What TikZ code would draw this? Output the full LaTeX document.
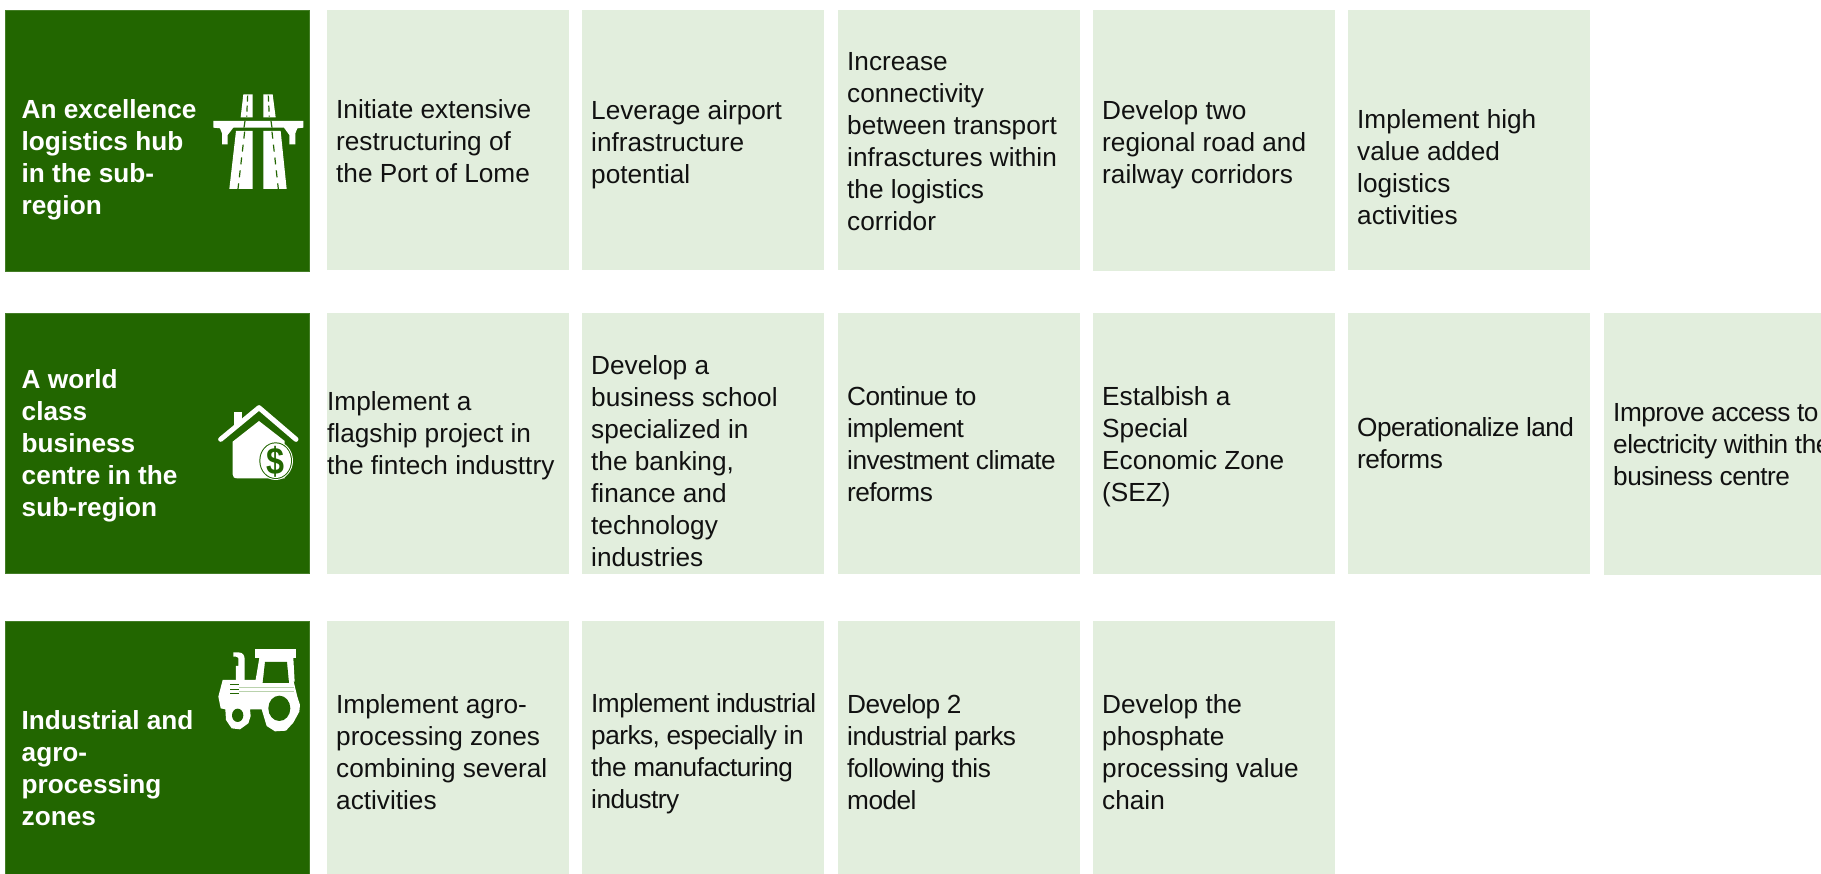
\documentclass[tikz,border=0pt]{standalone}
\usepackage{fontspec}
\setmainfont{Liberation Sans}
\definecolor{darkgreen}{HTML}{226600}
\definecolor{palegreen}{HTML}{E2EEDD}
\definecolor{inktext}{HTML}{111111}
\definecolor{seamgreen}{HTML}{B9D2AC}
\tikzset{
  greenbox/.style={fill=darkgreen,draw=darkgreen!85!white,line width=0.6pt,inner sep=0pt,outer sep=0pt,anchor=north west,minimum width=304.5pt},
  lightbox/.style={fill=palegreen,inner sep=0pt,outer sep=0pt,anchor=north west},
  celltext/.style={anchor=west,align=left,inner sep=0pt,text=inktext,font=\fontsize{26.2}{32}\selectfont},
  tightcell/.style={celltext,font=\fontsize{26.2}{32}\selectfont\addfontfeature{LetterSpace=-2.0}},
  headtext/.style={anchor=west,align=left,inner sep=0pt,text=white,font=\fontsize{26.2}{32}\selectfont\bfseries},
  iconwhite/.style={fill=white,draw=none},
  icongreen/.style={fill=darkgreen,draw=none},
}
\begin{document}
\begin{tikzpicture}[x=1pt,y=-1pt]
\useasboundingbox (0,0) rectangle (1821,874);
% row 1
\node[greenbox,minimum height=261.5pt] (h1) at (5,10) {};
\node[lightbox,minimum width=242pt,minimum height=260pt] (a1) at (327,10) {};
\node[lightbox,minimum width=242pt,minimum height=260pt] (a2) at (582,10) {};
\node[lightbox,minimum width=242pt,minimum height=260pt] (a3) at (838,10) {};
\node[lightbox,minimum width=242pt,minimum height=261pt] (a4) at (1093,10) {};
\node[lightbox,minimum width=242pt,minimum height=260pt] (a5) at (1348,10) {};
% row 2
\node[greenbox,minimum height=260.5pt] (h2) at (5,313) {};
\node[lightbox,minimum width=242pt,minimum height=261pt] (b1) at (327,313) {};
\node[lightbox,minimum width=242pt,minimum height=261pt] (b2) at (582,313) {};
\node[lightbox,minimum width=242pt,minimum height=261pt] (b3) at (838,313) {};
\node[lightbox,minimum width=242pt,minimum height=261pt] (b4) at (1093,313) {};
\node[lightbox,minimum width=242pt,minimum height=261pt] (b5) at (1348,313) {};
\node[lightbox,minimum width=243pt,minimum height=262pt] (b6) at (1604,313) {};
% row 3
\node[greenbox,minimum height=262pt] (h3) at (5,621) {};
\node[lightbox,minimum width=242pt,minimum height=262pt] (c1) at (327,621) {};
\node[lightbox,minimum width=242pt,minimum height=262pt] (c2) at (582,621) {};
\node[lightbox,minimum width=242pt,minimum height=262pt] (c3) at (838,621) {};
\node[lightbox,minimum width=242pt,minimum height=262pt] (c4) at (1093,621) {};
% heading texts
\node[headtext] (h1t) at (21.5,160) {An excellence\\logistics hub\\in the sub-\\region};
\node[headtext] (h2t) at (21.5,446) {A world\\class\\business\\centre in the\\sub-region};
\node[headtext] (h3t) at (21.5,768) {Industrial and\\agro-\\processing\\zones};
% row 1 texts
\node[celltext] (a1t) at (336,141.5) {Initiate extensive\\restructuring of\\the Port of Lome};
\node[celltext] (a2t) at (591,145) {Leverage airport\\infrastructure\\potential};
\node[celltext] (a3t) at (847,141.5) {Increase\\connectivity\\between transport\\infrasctures within\\the logistics\\corridor};
\node[celltext] (a4t) at (1102,145) {Develop two\\regional road and\\railway corridors};
\node[celltext] (a5t) at (1357,167) {Implement high\\value added\\logistics\\activities};
% row 2 texts
\node[celltext] (b1t) at (327,436) {Implement a\\flagship project in\\the fintech industtry};
\node[celltext] (b2t) at (591,461) {Develop a\\business school\\specialized in\\the banking,\\finance and\\technology\\industries};
\node[tightcell] (b3t) at (847,444) {Continue to\\implement\\investment climate\\reforms};
\node[celltext] (b4t) at (1102,446.5) {Estalbish a\\Special\\Economic Zone\\(SEZ)};
\node[tightcell] (b5t) at (1357,443.5) {Operationalize land\\reforms};
\node[tightcell] (b6t) at (1613,445) {Improve access to\\electricity within the\\business centre};
% row 3 texts
\node[celltext] (c1t) at (336,752.5) {Implement agro-\\processing zones\\combining several\\activities};
\node[tightcell] (c2t) at (591,753.5) {Implement industrial\\parks, especially in\\the manufacturing\\industry};
\node[tightcell] (c3t) at (847,752.5) {Develop 2\\industrial parks\\following this\\model};
\node[celltext] (c4t) at (1102,752.5) {Develop the\\phosphate\\processing value\\chain};
% motorway icon
\begin{scope}[shift={(210,85)},x=0.3333pt,y=-0.3333pt]
  \fill[iconwhite] (100,28) -- (128,28) -- (128,97) -- (92,97) -- cycle;
  \fill[iconwhite] (160,28) -- (188,28) -- (197,97) -- (160,97) -- cycle;
  \fill[iconwhite] (10,108) -- (280,108) -- (280,128) -- (262,130) -- (256,145) -- (256,178) -- (238,178) -- (238,150) -- (222,128) -- (70,128) -- (53,150) -- (53,178) -- (36,178) -- (36,145) -- (30,130) -- (10,128) -- cycle;
  \fill[iconwhite] (78,138) -- (128,138) -- (128,312) -- (58,312) -- cycle;
  \fill[iconwhite] (160,138) -- (212,138) -- (230,312) -- (160,312) -- cycle;
  \draw[darkgreen,line width=1.2pt] (105,108) -- (102,128);
  \draw[darkgreen,line width=1.2pt] (183,108) -- (186,128);
  \draw[darkgreen,line width=1.2pt,dash pattern=on 7pt off 6pt] (104,140) -- (84,312);
  \draw[darkgreen,line width=1.2pt,dash pattern=on 7pt off 6pt] (186,140) -- (205,312);
  \draw[darkgreen,line width=1.2pt,dash pattern=on 6pt off 4pt] (113,32) -- (110,95);
  \draw[darkgreen,line width=1.2pt,dash pattern=on 6pt off 4pt] (175,32) -- (178,95);
\end{scope}
% house icon
\begin{scope}[shift={(210,395)},x=0.3333pt,y=-0.3333pt]
  \fill[iconwhite] (73,50) rectangle (95,90);
  \draw[white,line width=5pt,line cap=round,line join=round] (32,133) -- (147,38) -- (258,133);
  \fill[iconwhite] (68,140) -- (147,78) -- (224,138) -- (224,250) -- (82,250) .. controls (72,250) and (68,246) .. (68,238) -- cycle;
  \fill[iconwhite] (197,197) ellipse (52 and 58);
  \fill[icongreen] (197,197) ellipse (49 and 55);
  \fill[iconwhite] (197,197) ellipse (46 and 52);
  \node[inner sep=0pt,text=darkgreen,font=\fontsize{38}{38}\selectfont\bfseries,xscale=0.85] (dollar) at (197,200) {\$};
\end{scope}
% tractor icon
\begin{scope}[shift={(210,640)},x=0.3333pt,y=-0.3333pt]
  \fill[iconwhite] (135,28) rectangle (258,54);
  \fill[iconwhite] (148,54) -- (250,54) -- (254,125) -- (136,125) -- cycle;
  \fill[iconwhite] (78,125) -- (78,78) -- (85,78) -- (85,55) .. controls (85,50) and (80,50) .. (70,50) -- (70,37) -- (85,37) .. controls (100,37) and (104,48) .. (104,58) -- (104,125) -- cycle;
  \fill[iconwhite] (38,120) -- (250,120) -- (262,170) -- (270,195) -- (268,215) -- (250,248) -- (228,272) -- (195,274) -- (170,258) -- (155,208) -- (120,208) -- (122,228) -- (115,250) -- (90,268) -- (65,265) -- (48,240) -- (46,208) -- (32,205) -- (25,170) -- cycle;
  \fill[icongreen] (165,66) -- (231,66) -- (237,129) -- (158,129) -- cycle;
  \fill[icongreen] (208,205) ellipse (33 and 38);
  \fill[icongreen] (83,226) ellipse (17 and 20);
  \draw[darkgreen,line width=1pt] (60,135) -- (88,135) (60,148) -- (88,148) (60,160) -- (88,160);
  \draw[seamgreen,line width=0.6pt] (88,143) -- (252,143) (88,155) -- (252,155);
\end{scope}
\end{tikzpicture}
\end{document}
